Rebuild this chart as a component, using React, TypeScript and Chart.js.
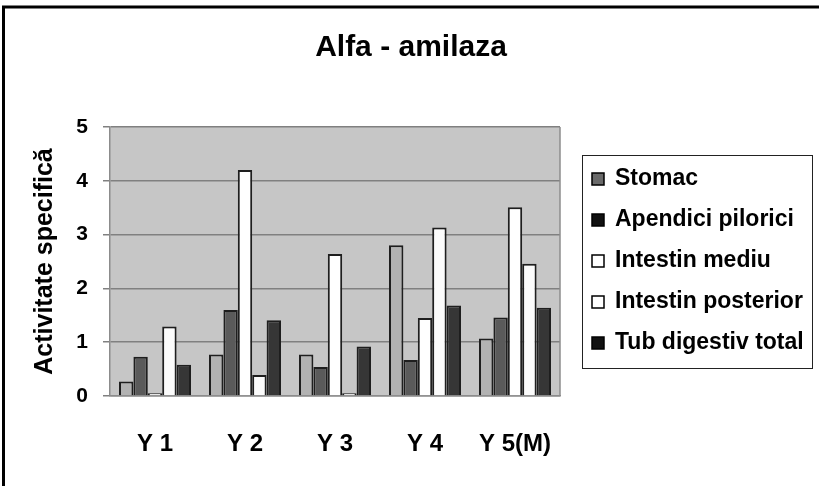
import React, { useEffect, useRef } from "react";
import { Chart, registerables } from "chart.js";

Chart.register(...registerables);

const categories = ["Y 1", "Y 2", "Y 3", "Y 4", "Y 5(M)"];
const seriesNames = ["Stomac", "Apendici pilorici", "Intestin mediu", "Intestin posterior", "Tub digestiv total"];
const stomac = [0.27, 0.77, 0.77, 2.8, 1.07];
const apendici = [0.73, 1.6, 0.54, 0.67, 1.46];
const intestinMediu = [0.05, 4.2, 2.64, 1.45, 3.51];
const intestinPosterior = [1.29, 0.39, 0.05, 3.13, 2.46];
const tubDigestiv = [0.58, 1.41, 0.92, 1.68, 1.64];
const yTicks = [0, 1, 2, 3, 4, 5];
const chartTitle = "Alfa - amilaza";

const FONT = "'Liberation Sans', Arial, Helvetica, sans-serif";
const fills = ["#b2b2b2", "#5a5a5a", "#ffffff", "#fbfbfb", "#363636"];
const swatchFills = ["#6a6a6a", "#111111", "#ffffff", "#ffffff", "#111111"];

const frameAndLegend = {
  id: "frameAndLegend",
  beforeDraw(chart: any) {
    const { ctx, chartArea } = chart;
    ctx.save();
    ctx.fillStyle = "#ffffff";
    ctx.fillRect(0, 0, chart.width, chart.height);
    ctx.fillStyle = "#c6c6c6";
    ctx.fillRect(chartArea.left, chartArea.top, chartArea.right - chartArea.left, chartArea.bottom - chartArea.top);
    ctx.restore();
  },
  afterDraw(chart: any) {
    const { ctx, chartArea } = chart;
    ctx.save();
    // plot area right border
    ctx.strokeStyle = "#8c8c8c";
    ctx.lineWidth = 1.5;
    ctx.beginPath();
    ctx.moveTo(chartArea.right, chartArea.top);
    ctx.lineTo(chartArea.right, chartArea.bottom);
    ctx.stroke();
    // outer frame (top and left)
    ctx.strokeStyle = "#000";
    ctx.lineWidth = 3;
    ctx.beginPath();
    ctx.moveTo(3.5, chart.height);
    ctx.lineTo(3.5, 7);
    ctx.lineTo(chart.width, 7);
    ctx.stroke();
    // title
    ctx.fillStyle = "#000";
    ctx.font = "bold 30px " + FONT;
    ctx.textAlign = "center";
    ctx.textBaseline = "alphabetic";
    ctx.fillText(chartTitle, 411, 56);
    // legend
    const lx = 582, ly = 155, lw = 230, lh = 213;
    ctx.strokeStyle = "#222";
    ctx.lineWidth = 1;
    ctx.strokeRect(lx + 0.5, ly + 0.5, lw, lh);
    ctx.font = "bold 23px " + FONT;
    ctx.textBaseline = "middle";
    ctx.textAlign = "left";
    chart.data.datasets.forEach((ds: any, i: number) => {
      const cy = 179 + i * 41;
      ctx.fillStyle = swatchFills[i];
      ctx.fillRect(592, cy - 6, 12, 12);
      ctx.strokeStyle = "#000";
      ctx.lineWidth = 1.5;
      ctx.strokeRect(592, cy - 6, 12, 12);
      ctx.fillStyle = "#000";
      ctx.fillText(ds.label, 615, cy);
    });
    ctx.restore();
  },
};

export default function App() {
  const ref = useRef<HTMLCanvasElement>(null);
  useEffect(() => {
    if (!ref.current) return;
    const seriesData = [stomac, apendici, intestinMediu, intestinPosterior, tubDigestiv];
    const chart = new Chart(ref.current, {
      type: "bar",
      data: {
        labels: categories,
        datasets: seriesData.map((d, i) => ({
          label: seriesNames[i],
          data: d,
          backgroundColor: fills[i],
          borderColor: "#1e1e1e",
          borderWidth: 2,
          categoryPercentage: 0.8,
          barPercentage: 1.0,
        })),
      },
      options: {
        responsive: false,
        animation: false,
        layout: { padding: { left: 0, right: 259, top: 127, bottom: 0 } },
        plugins: {
          legend: { display: false },
          tooltip: { enabled: false },
          title: { display: false },
        },
        scales: {
          x: {
            grid: { display: false },
            border: { display: true, color: "#8c8c8c", width: 1.5 },
            ticks: {
              color: "#000",
              font: { family: FONT, size: 24, weight: "bold" },
              padding: 26,
              maxRotation: 0,
            },
            afterFit: (s: any) => {
              s.height = 90;
            },
          },
          y: {
            min: 0,
            max: 5,
            afterBuildTicks: (s: any) => {
              s.ticks = yTicks.map((v) => ({ value: v }));
            },
            grid: { color: "#808080", lineWidth: 1.5, tickLength: 7, drawTicks: true },
            border: { display: true, color: "#8c8c8c", width: 1.5 },
            ticks: {
              color: "#000",
              font: { family: FONT, size: 21, weight: "bold" },
              padding: 15,
            },
            title: {
              display: true,
              text: "Activitate specifică",
              color: "#000",
              font: { family: FONT, size: 25, weight: "bold" },
              padding: { top: 30, bottom: 0 },
            },
            afterFit: (s: any) => {
              s.width = 110;
            },
          },
        },
      },
      plugins: [frameAndLegend],
    });
    return () => chart.destroy();
  }, []);
  return (
    <div style={{ position: "fixed", left: 0, top: 0, width: 819, height: 486, background: "#fff" }}>
      <canvas ref={ref} width={819} height={486} style={{ width: 819, height: 486, display: "block" }} />
    </div>
  );
}
